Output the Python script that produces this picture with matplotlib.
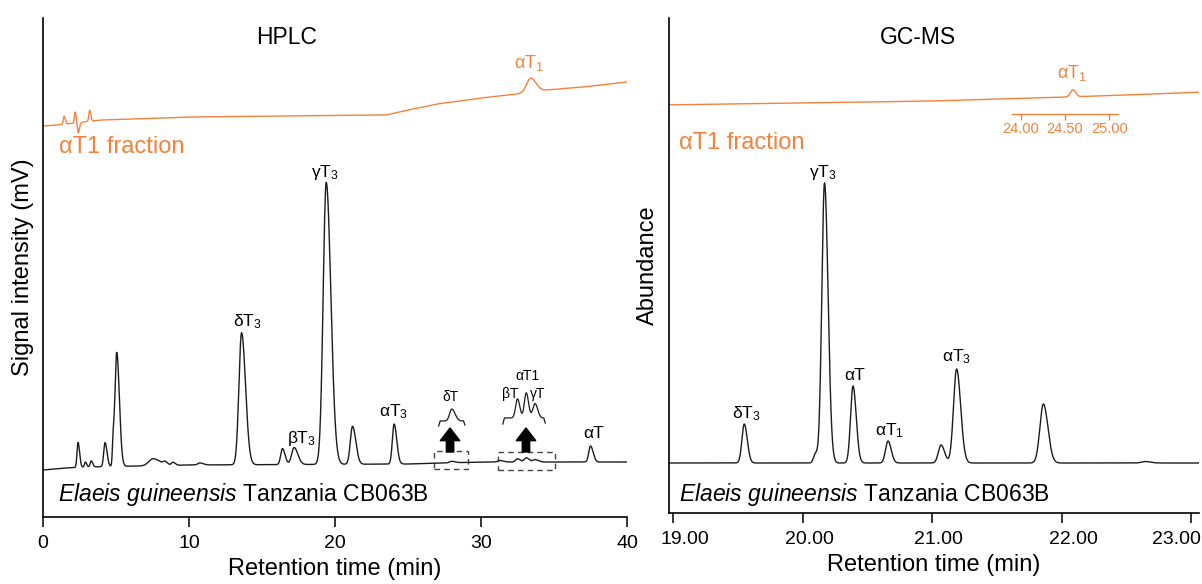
import numpy as np
import matplotlib
matplotlib.use("Agg")
from matplotlib import pyplot as plt
from matplotlib import transforms as mtransforms
from matplotlib.patches import Rectangle, FancyArrowPatch

plt.rcParams['font.family'] = ['Liberation Sans', 'DejaVu Sans']
plt.rcParams['mathtext.fontset'] = 'custom'
plt.rcParams['mathtext.rm'] = 'Liberation Sans'
plt.rcParams['mathtext.it'] = 'Liberation Sans:italic'
plt.rcParams['mathtext.default'] = 'regular'

BLACK = '#1c1c1c'
ORANGE = '#F4823C'

# ---------------- HPLC data (retention time in min, signal in arbitrary mV) ----
hplc_base_t = [0, 1.5, 3, 10, 25, 30, 40]
hplc_base_y = [47, 49, 50, 52, 53, 55, 55]
hplc_rt = [2.4, 2.9, 3.3, 4.25, 4.8, 5.05, 7.55, 8.35, 8.9, 10.75,
           13.6, 16.4, 17.2, 19.4, 21.2, 24.05, 31.3, 37.5]
hplc_h = [25, 5, 6, 24, 22, 114, 7, 3, 3, 2,
          132, 16, 17, 282, 38, 40, 1.5, 16]
hplc_w = [0.07, 0.06, 0.07, 0.09, 0.05, 0.12, 0.3, 0.12, 0.1, 0.15,
          0.18, 0.12, 0.17, 0.21, 0.15, 0.12, 0.15, 0.12]
# minor tocopherols magnified in the insets
dT_rt, dT_h, dT_w = [28.0], [1.5], [0.15]
at1_rt, at1_h, at1_w = [32.5, 33.1, 33.7], [3.2, 4.2, 2.4], [0.13, 0.13, 0.15]

# orange trace: alphaT1 fraction (HPLC)
hplc_fr_base_t = [0, 1.0, 4, 10, 23.5, 25, 27, 30, 32.5, 34.5, 37, 40]
hplc_fr_base_y = [391, 392, 397, 400, 402, 407, 413, 419, 423, 427, 430, 435]
hplc_fr_rt = [1.45, 2.2, 2.42, 3.2, 33.4]
hplc_fr_h = [8, 11, -10, 11, 14]
hplc_fr_w = [0.06, 0.05, 0.06, 0.06, 0.28]

# ---------------- GC-MS data ----
gc_base_t = [18.9, 23.1]
gc_base_y = [50, 50]
gc_rt = [19.55, 20.10, 20.17, 20.39, 20.66, 21.07, 21.19, 21.86, 22.65]
gc_h = [39, 9, 280, 77, 22, 18, 94, 59, 1.5]
gc_w = [0.018, 0.015, 0.021, 0.019, 0.019, 0.021, 0.024, 0.027, 0.03]

gc_fr_base_t = [18.9, 20, 21, 21.8, 22.5, 23.1]
gc_fr_base_y = [408, 410, 412, 415, 418, 421]
gc_fr_rt = [22.09]
gc_fr_h = [7]
gc_fr_w = [0.02]


def peaks(t, rts, hs, ws, tail):
    y = np.zeros_like(t)
    for r, h, w in zip(rts, hs, ws):
        s = np.where(t < r, w, w * tail)
        y += h * np.exp(-0.5 * ((t - r) / s) ** 2)
    return y


def trace(t, bt, by, rts, hs, ws, tail=1.0):
    return np.interp(t, bt, by) + peaks(t, rts, hs, ws, tail)


fig = plt.figure(figsize=(12.02, 5.84), dpi=100)
ax1 = fig.add_axes([43 / 1202, 67 / 584, 584 / 1202, 499 / 584])
ax2 = fig.add_axes([669 / 1202, 71 / 584, 530 / 1202, 495 / 584])

for ax in (ax1, ax2):
    for s in ('top', 'right'):
        ax.spines[s].set_visible(False)
    for s in ('left', 'bottom'):
        ax.spines[s].set_linewidth(1.2)
    ax.set_yticks([])
    ax.tick_params(axis='x', direction='out', length=7, width=1.1,
                   labelsize=14, pad=6)
    ax.set_xlabel('Retention time (min)', fontsize=17, labelpad=4)

# ---- HPLC panel
t = np.linspace(0, 40, 6000)
y_main = trace(t, hplc_base_t, hplc_base_y,
               hplc_rt + dT_rt + at1_rt, hplc_h + dT_h + at1_h,
               hplc_w + dT_w + at1_w, tail=1.5)
y_fr = trace(t, hplc_fr_base_t, hplc_fr_base_y,
             hplc_fr_rt, hplc_fr_h, hplc_fr_w, tail=1.3)
ax1.plot(t, y_main, color=BLACK, lw=1.0)
ax1.plot(t, y_fr, color=ORANGE, lw=1.0)
ax1.set_xlim(0, 40)
ax1.set_ylim(0, 499)
ax1.set_xticks([0, 10, 20, 30, 40])
ax1.set_ylabel('Signal intensity (mV)', fontsize=17)
ax1.yaxis.set_label_coords(-0.016, 0.5)

# insets (magnified minor peaks)
ti = np.linspace(27.2, 28.8, 200)
yi = 96 + 8 * peaks(ti, dT_rt, dT_h, dT_w, 1.5)
ax1.plot(np.r_[27.1, ti, 28.9], np.r_[91, yi, 92], color=BLACK, lw=0.9)
ti = np.linspace(31.6, 34.3, 300)
yi = 99 + 6 * peaks(ti, at1_rt, at1_h, at1_w, 1.2)
ax1.plot(np.r_[31.5, ti, 34.4], np.r_[93, yi, 94], color=BLACK, lw=0.9)

for (x0, x1, y0, y1) in [(26.78, 29.11, 48, 66), (31.16, 35.07, 47, 65)]:
    ax1.add_patch(Rectangle((x0, y0), x1 - x0, y1 - y0, fill=False,
                            ec='#444444', lw=1.0, ls=(0, (4, 3))))
for xa in (27.88, 33.08):
    ax1.add_patch(FancyArrowPatch((xa, 65), (xa, 89),
                                  arrowstyle='simple,head_length=0.65,head_width=1.0,tail_width=0.38',
                                  mutation_scale=14, color='black',
                                  shrinkA=0, shrinkB=0))

ax1.text(16.7, 479, 'HPLC', fontsize=16.5, ha='center', va='center')
ax1.text(1.1, 370, 'αT1 fraction', fontsize=17, color=ORANGE, va='center')
ax1.text(33.3, 454, r'αT$_1$', fontsize=13, color=ORANGE, ha='center', va='center')
for lab, x, y in [(r'δT$_3$', 14.0, 195), (r'βT$_3$', 17.7, 79),
                  (r'γT$_3$', 19.3, 345), (r'αT$_3$', 24.0, 105),
                  ('αT', 37.7, 84)]:
    ax1.text(x, y, lab, fontsize=12.5, ha='center', va='center')
for lab, x, y in [('δT', 27.9, 120), ('αT1', 33.15, 141),
                  ('βT', 32.0, 123), ('γT', 33.9, 123)]:
    ax1.text(x, y, lab, fontsize=10, ha='center', va='center')
ax1.text(1.0, 23, r'$\it{Elaeis\ guineensis}$ Tanzania CB063B',
         fontsize=16.5, va='center')

# ---- GC-MS panel
x0, x1 = 18.969, 18.969 + 530 / 129.5
t = np.linspace(x0, x1, 6000)
y_main = trace(t, gc_base_t, gc_base_y, gc_rt, gc_h, gc_w, tail=1.3)
y_fr = trace(t, gc_fr_base_t, gc_fr_base_y, gc_fr_rt, gc_fr_h, gc_fr_w)
ax2.plot(t, y_main, color=BLACK, lw=1.0)
ax2.plot(t, y_fr, color=ORANGE, lw=1.0)
ax2.set_xlim(x0, x1)
ax2.set_ylim(0, 495)
ax2.set_xticks([19, 20, 21, 22, 23])
ax2.set_xticklabels(['19.00', '20.00', '21.00', '22.00', '23.00'])
# the reference labels sit a little off their ticks; last one pulled inside
for lab, dx in zip(ax2.get_xticklabels(), [12, 7, 6, 12, -15]):
    lab.set_transform(lab.get_transform() +
                      mtransforms.ScaledTranslation(dx / 100, 0, fig.dpi_scale_trans))
ax2.set_ylabel('Abundance', fontsize=17)
ax2.yaxis.set_label_coords(-0.019, 0.5)

ax2.text(20.89, 475, 'GC-MS', fontsize=16.5, ha='center', va='center')
ax2.text(22.08, 440, r'αT$_1$', fontsize=13, color=ORANGE, ha='center', va='center')
ax2.text(19.05, 370, 'αT1 fraction', fontsize=17, color=ORANGE, va='center')
for lab, x, y in [(r'δT$_3$', 19.57, 99), (r'γT$_3$', 20.16, 341),
                  ('αT', 20.405, 138), (r'αT$_1$', 20.67, 82),
                  (r'αT$_3$', 21.19, 156)]:
    ax2.text(x, y, lab, fontsize=12.5, ha='center', va='center')
ax2.text(19.05, 19, r'$\it{Elaeis\ guineensis}$ Tanzania CB063B',
         fontsize=16.5, va='center')

# small retention-time scale of the fraction run
axi = fig.add_axes([1012 / 1202, (584 - 114) / 584, 106 / 1202, 0.0005])
for s in ('top', 'right', 'left'):
    axi.spines[s].set_visible(False)
axi.spines['bottom'].set_color(ORANGE)
axi.spines['bottom'].set_linewidth(1.0)
axi.set_xlim(23.90, 25.10)
axi.set_xticks([24.0, 24.5, 25.0])
axi.set_xticklabels(['24.00', '24.50', '25.00'])
axi.set_yticks([])
axi.patch.set_alpha(0)
axi.tick_params(axis='x', length=4, width=1.0, color=ORANGE,
                labelcolor=ORANGE, labelsize=10.5, pad=2)

fig.savefig('out.png', dpi=100)
